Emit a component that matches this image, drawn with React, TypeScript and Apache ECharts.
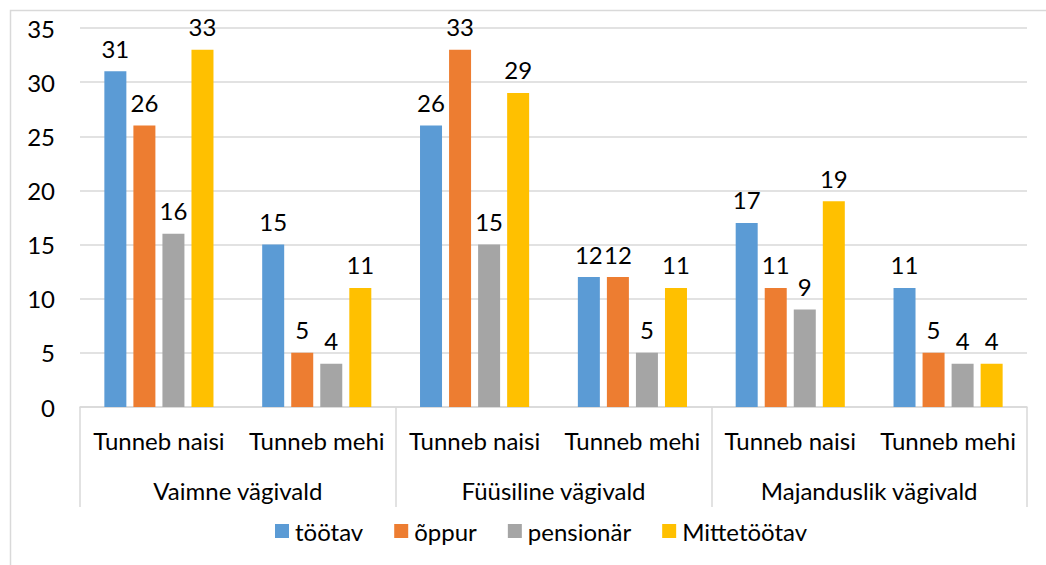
import React, { useEffect, useRef } from "react";
import * as echarts from "echarts";

const subCategories = ["Tunneb naisi", "Tunneb mehi", "Tunneb naisi", "Tunneb mehi", "Tunneb naisi", "Tunneb mehi"];
const groupCategories = ["Vaimne vägivald", "Füüsiline vägivald", "Majanduslik vägivald"];
const seriesNames = ["töötav", "õppur", "pensionär", "Mittetöötav"];
const tootav = [31, 15, 26, 12, 17, 11];
const oppur = [26, 5, 33, 12, 11, 5];
const pensionar = [16, 4, 15, 5, 9, 4];
const mittetootav = [33, 11, 29, 11, 19, 4];
const colors = ["#5b9bd5", "#ed7d31", "#a5a5a5", "#ffc000"];

const FONT = "Lato";
const FS = 24;

export default function App() {
  const ref = useRef<HTMLDivElement>(null);
  useEffect(() => {
    if (!ref.current) return;
    const chart = echarts.init(ref.current, null, { renderer: "svg" });
    const values = [tootav, oppur, pensionar, mittetootav];
    chart.setOption({
      animation: false,
      backgroundColor: "#ffffff",
      textStyle: { fontFamily: FONT },
      graphic: [
        {
          type: "rect",
          shape: { x: 10.5, y: 10.5, width: 1100, height: 600 },
          style: { fill: "none", stroke: "#d9d9d9", lineWidth: 1.5 },
          silent: true,
        },
      ],
      grid: { left: 80, right: 19, top: 28, bottom: 158, containLabel: false },
      legend: {
        data: seriesNames,
        bottom: 17,
        left: 270,
        itemWidth: 14,
        itemHeight: 14,
        itemGap: 31,
        icon: "rect",
        textStyle: { fontFamily: FONT, fontSize: FS, color: "#000", padding: [0, 0, 0, 1] },
      },
      xAxis: [
        {
          type: "category",
          data: subCategories,
          position: "bottom",
          axisLine: { show: true, lineStyle: { color: "#d9d9d9", width: 1.5 } },
          axisTick: { show: false },
          axisLabel: { fontFamily: FONT, fontSize: FS, color: "#000", margin: 21, interval: 0 },
        },
        {
          type: "category",
          data: groupCategories,
          position: "bottom",
          axisLine: { show: false },
          axisTick: { show: true, length: 100, lineStyle: { color: "#d9d9d9", width: 1.5 } },
          axisLabel: { fontFamily: FONT, fontSize: FS, color: "#000", margin: 71, interval: 0 },
        },
      ],
      yAxis: {
        type: "value",
        min: 0,
        max: 35,
        interval: 5,
        axisLine: { show: false },
        axisTick: { show: false },
        splitLine: { lineStyle: { color: "#d9d9d9", width: 1.5 } },
        axisLabel: { fontFamily: FONT, fontSize: FS, color: "#000", margin: 25 },
      },
      series: seriesNames.map((name, i) => ({
        name,
        type: "bar",
        xAxisIndex: 0,
        data: values[i],
        barWidth: 22,
        barGap: "32%",
        itemStyle: { color: colors[i] },
        label: {
          show: true,
          position: "top",
          distance: 11,
          fontFamily: FONT,
          fontSize: FS,
          color: "#000",
        },
      })),
    });
    return () => chart.dispose();
  }, []);
  return (
    <div
      ref={ref}
      style={{ position: "absolute", left: 0, top: 0, width: 1046, height: 565 }}
    />
  );
}
